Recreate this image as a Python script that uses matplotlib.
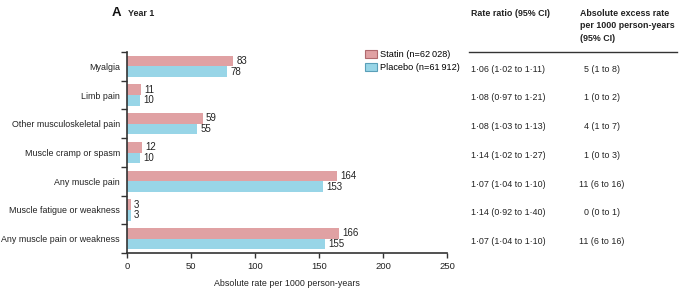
import matplotlib
matplotlib.use("Agg")
import matplotlib.pyplot as plt
from matplotlib.patches import Patch
from matplotlib.lines import Line2D
from matplotlib.transforms import blended_transform_factory
import numpy as np

# ---------- data ----------
categories = [
    "Myalgia",
    "Limb pain",
    "Other musculoskeletal pain",
    "Muscle cramp or spasm",
    "Any muscle pain",
    "Muscle fatigue or weakness",
    "Any muscle pain or weakness",
]
statin = [83, 11, 59, 12, 164, 3, 166]
placebo = [78, 10, 55, 10, 153, 3, 155]
rate_ratio = [
    "1·06 (1·02 to 1·11)",
    "1·08 (0·97 to 1·21)",
    "1·08 (1·03 to 1·13)",
    "1·14 (1·02 to 1·27)",
    "1·07 (1·04 to 1·10)",
    "1·14 (0·92 to 1·40)",
    "1·07 (1·04 to 1·10)",
]
excess = [
    "5 (1 to 8)",
    "1 (0 to 2)",
    "4 (1 to 7)",
    "1 (0 to 3)",
    "11 (6 to 16)",
    "0 (0 to 1)",
    "11 (6 to 16)",
]
xticks = [0, 50, 100, 150, 200, 250]

# ---------- style ----------
plt.rcParams["font.family"] = ["Liberation Sans", "DejaVu Sans"]
pink = "#e0a1a3"
pink_edge = "#b06a6e"
blue = "#98d5e7"
blue_edge = "#5a9fb8"
dark = "#222222"
fs = 6.4
W, H = 680, 295

fig = plt.figure(figsize=(W / 100, H / 100), dpi=100)
ax = fig.add_axes([127 / W, 1 - 253 / H, 320 / W, 201 / H])

y = np.arange(len(categories))
h = 0.37
ax.barh(y - h / 2, statin, height=h, color=pink)
ax.barh(y + h / 2, placebo, height=h, color=blue)

for i in range(len(categories)):
    ax.text(statin[i] + 2.5, y[i] - h / 2, str(statin[i]), va="center", ha="left",
            fontsize=7, color=dark)
    ax.text(placebo[i] + 2.5, y[i] + h / 2, str(placebo[i]), va="center", ha="left",
            fontsize=7, color=dark)

ax.set_xlim(0, 250)
ax.set_ylim(len(categories) - 0.5, -0.5)
ax.set_xticks(xticks)
ax.set_xticklabels([str(t) for t in xticks], fontsize=6.8, color=dark)
ax.set_yticks(np.arange(-0.5, len(categories), 1.0))
ax.set_yticklabels([])
ax.set_yticks(y, minor=True)
ax.set_yticklabels(categories, minor=True, fontsize=fs, color=dark)
ax.tick_params(axis="y", which="minor", length=0, pad=5)
ax.tick_params(axis="y", which="major", length=4, width=1, color="#333333")
ax.tick_params(axis="x", length=3.5, width=1, color="#333333", pad=3)
for s in ["top", "right"]:
    ax.spines[s].set_visible(False)
for s in ["left", "bottom"]:
    ax.spines[s].set_color("#333333")
    ax.spines[s].set_linewidth(1.2)
ax.set_xlabel("Absolute rate per 1000 person-years", fontsize=fs, color=dark, labelpad=6)

# title
fig.text(112 / W, 1 - 13 / H, "A", fontsize=9.5, fontweight="bold", va="center", color="#111111")
fig.text(128 / W, 1 - 13 / H, "Year 1", fontsize=fs, fontweight="bold", va="center", color=dark)

# legend
handles = [
    Patch(facecolor=pink, edgecolor=pink_edge, linewidth=0.8, label="Statin (n=62\u2009028)"),
    Patch(facecolor=blue, edgecolor=blue_edge, linewidth=0.8, label="Placebo (n=61\u2009912)"),
]
fig.legend(handles=handles, loc="upper left", bbox_to_anchor=(365 / W, 1 - 50 / H),
           frameon=False, fontsize=6.6, handlelength=1.35, handleheight=0.9,
           handletextpad=0.3, labelspacing=0.45, borderpad=0, borderaxespad=0)

# table on the right
fig.text(471 / W, 1 - 14 / H, "Rate ratio (95% CI)", fontsize=fs, fontweight="bold",
         va="center", color=dark)
fig.text(580 / W, 1 - 26 / H, "Absolute excess rate\nper 1000 person-years\n(95% CI)",
         fontsize=fs, fontweight="bold", va="center", ha="left", color=dark, linespacing=1.45)
fig.add_artist(Line2D([469 / W, 677 / W], [1 - 52 / H, 1 - 52 / H], color="#333333", lw=1))

tr = blended_transform_factory(fig.transFigure, ax.transData)
for i in range(len(categories)):
    fig.text(471 / W, y[i] + 0.1, rate_ratio[i], transform=tr, fontsize=fs,
             va="center", ha="left", color=dark)
    fig.text(602 / W, y[i] + 0.1, excess[i], transform=tr, fontsize=fs,
             va="center", ha="center", color=dark)

fig.savefig("out.png", dpi=100, facecolor="white")
